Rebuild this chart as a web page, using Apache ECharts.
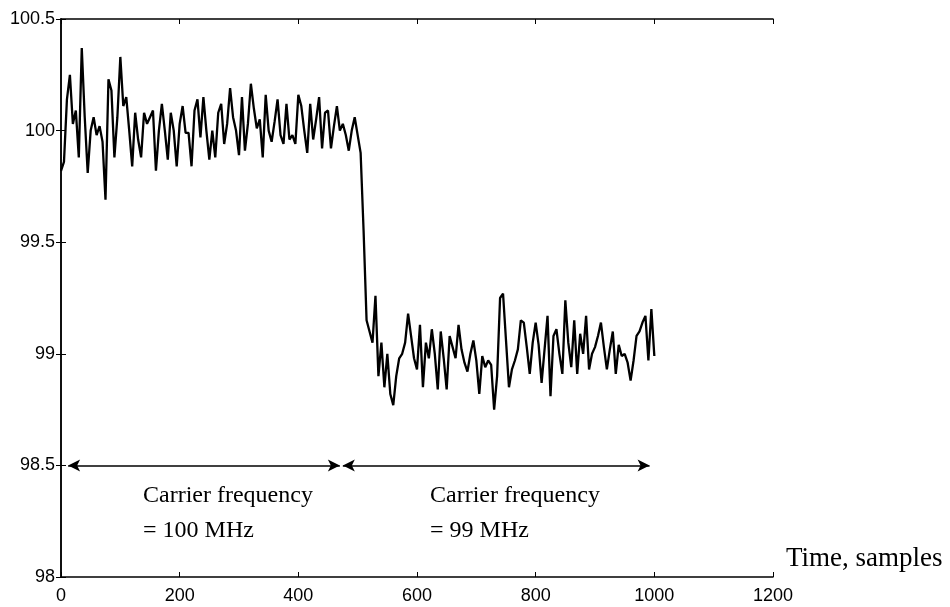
<!DOCTYPE html>
<html>
<head>
<meta charset="utf-8">
<script src="https://cdn.jsdelivr.net/npm/echarts@6/dist/echarts.min.js"></script>
<style>
html,body{margin:0;padding:0;background:#fff;}
#c{width:950px;height:607px;}
</style>
</head>
<body>
<div id="c"></div>
<script>
// Sample index step between readings
var sampleStep = 5;
// Measured frequency (MHz), one value every 5 samples from sample 0 to 1000
var freqValues = [
  99.82, 99.86, 100.14, 100.25, 100.03, 100.09, 99.88, 100.37, 100.06, 99.81,
  100.00, 100.06, 99.98, 100.02, 99.95, 99.69, 100.23, 100.18, 99.88, 100.06,
  100.33, 100.11, 100.15, 100.00, 99.84, 100.08, 99.96, 99.88, 100.08, 100.03,
  100.06, 100.09, 99.82, 100.00, 100.12, 100.00, 99.87, 100.08, 100.00, 99.84,
  100.03, 100.11, 99.99, 99.99, 99.84, 100.09, 100.14, 99.97, 100.15, 100.00,
  99.87, 100.00, 99.88, 100.08, 100.12, 99.94, 100.03, 100.19, 100.06, 100.00,
  99.89, 100.15, 99.91, 100.03, 100.21, 100.10, 100.01, 100.05, 99.88, 100.16,
  100.00, 99.95, 100.04, 100.14, 99.98, 99.94, 100.12, 99.96, 99.98, 99.94,
  100.16, 100.11, 100.00, 99.90, 100.12, 99.96, 100.05, 100.15, 99.92, 100.08,
  100.09, 99.92, 100.02, 100.11, 100.00, 100.03, 99.98, 99.91, 100.00, 100.06,
  99.98, 99.90, 99.55, 99.15, 99.10, 99.05, 99.26, 98.90, 99.05, 98.85,
  99.00, 98.82, 98.77, 98.90, 98.98, 99.00, 99.05, 99.18, 99.08, 98.98,
  98.93, 99.13, 98.85, 99.05, 98.98, 99.11, 99.00, 98.84, 99.10, 98.98,
  98.84, 99.08, 99.03, 98.98, 99.13, 99.02, 98.96, 98.92, 99.00, 99.06,
  98.97, 98.82, 98.99, 98.94, 98.97, 98.95, 98.75, 98.90, 99.25, 99.27,
  99.06, 98.85, 98.93, 98.97, 99.02, 99.15, 99.14, 99.03, 98.91, 99.05,
  99.14, 99.04, 98.87, 99.02, 99.17, 98.81, 99.08, 99.11, 99.00, 98.91,
  99.24, 99.05, 98.94, 99.15, 98.91, 99.09, 99.00, 99.17, 98.93, 99.00,
  99.03, 99.08, 99.14, 99.03, 98.93, 99.02, 99.10, 98.91, 99.04, 98.99,
  99.00, 98.96, 98.88, 98.97, 99.08, 99.10, 99.14, 99.17, 98.97, 99.20,
  98.99
];
// Arrow spans (samples) at level 98.5
var arrowSpans = [[12, 470], [475, 992]];
var arrowLevel = 98.5;
var xTicks = [0, 200, 400, 600, 800, 1000, 1200];
var yTicks = [98, 98.5, 99, 99.5, 100, 100.5];
var annotations = ["Carrier frequency\n= 100 MHz", "Carrier frequency\n= 99 MHz"];
var xAxisName = "Time, samples";

var lineData = freqValues.map(function (v, i) { return [i * sampleStep, v]; });

var chart = echarts.init(document.getElementById('c'), null, {renderer: 'canvas'});
var labelFont = {color: '#000', fontSize: 18, fontFamily: 'Liberation Sans, Arial, sans-serif'};
var axisLineStyle = {show: true, lineStyle: {color: '#000', width: 1.5}};
var tickStyle = {show: true, inside: true, length: 5, lineStyle: {color: '#000', width: 1}};
var serif = '"Liberation Serif", "Times New Roman", serif';

chart.setOption({
  animation: false,
  backgroundColor: '#fff',
  grid: {left: 61, right: 177, top: 19, bottom: 30, show: false},
  xAxis: [{
    type: 'value', min: xTicks[0], max: xTicks[xTicks.length - 1], interval: 200,
    position: 'bottom',
    axisLine: axisLineStyle, axisTick: tickStyle, splitLine: {show: false},
    axisLabel: Object.assign({margin: 10, formatter: function (v) { return String(v); }}, labelFont)
  }, {
    type: 'value', min: xTicks[0], max: xTicks[xTicks.length - 1], interval: 200,
    position: 'top',
    axisLine: axisLineStyle, axisTick: tickStyle, splitLine: {show: false},
    axisLabel: {show: false}
  }],
  yAxis: [{
    type: 'value', min: yTicks[0], max: yTicks[yTicks.length - 1], interval: 0.5,
    position: 'left',
    axisLine: axisLineStyle, axisTick: tickStyle, splitLine: {show: false},
    axisLabel: Object.assign({margin: 6, formatter: function (v) { return String(v); }}, labelFont)
  }, {
    type: 'value', min: yTicks[0], max: yTicks[yTicks.length - 1], interval: 0.5,
    position: 'right',
    axisLine: axisLineStyle, axisTick: tickStyle, splitLine: {show: false},
    axisLabel: {show: false}
  }],
  series: [{
    type: 'line',
    data: lineData,
    showSymbol: false,
    lineStyle: {color: '#000', width: 2.3},
    silent: true
  }, {
    type: 'line',
    data: [],
    silent: true,
    markLine: {
      silent: true,
      symbol: ['arrow', 'arrow'],
      symbolSize: [9, 12],
      label: {show: false},
      lineStyle: {color: '#000', width: 1.5, type: 'solid'},
      data: arrowSpans.map(function (s) {
        return [{coord: [s[0], arrowLevel]}, {coord: [s[1], arrowLevel]}];
      })
    }
  }],
  graphic: [{
    type: 'text', left: 143, top: 478,
    style: {text: annotations[0], fill: '#000', font: '24px ' + serif, lineHeight: 35}
  }, {
    type: 'text', left: 430, top: 478,
    style: {text: annotations[1], fill: '#000', font: '24px ' + serif, lineHeight: 35}
  }, {
    type: 'text', left: 786, top: 545,
    style: {text: xAxisName, fill: '#000', font: '27px ' + serif}
  }]
});
</script>
</body>
</html>
